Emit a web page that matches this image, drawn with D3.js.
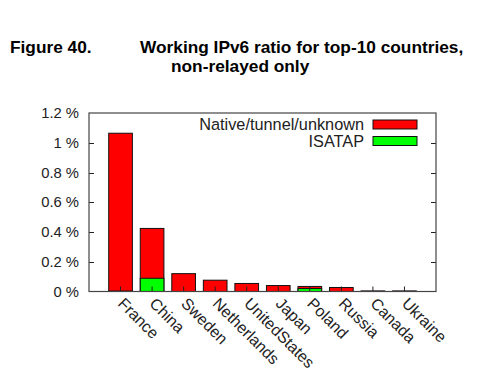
<!DOCTYPE html>
<html>
<head>
<meta charset="UTF-8">
<title>Working IPv6 ratio for top-10 countries</title>
<script src="https://cdn.jsdelivr.net/npm/d3@7"></script>
<style>
  body { margin: 0; background: #fff; }
  text { font-family: "Liberation Sans", Arial, sans-serif; }
</style>
</head>
<body>
<svg width="499" height="380"></svg>
<script>
// data (percent)
var countries = ["France", "China", "Sweden", "Netherlands", "UnitedStates",
                 "Japan", "Poland", "Russia", "Canada", "Ukraine"];
var totalPct  = [1.064, 0.424, 0.120, 0.076, 0.054, 0.040, 0.034, 0.027, 0.004, 0.004];
var isatapPct = [0.003, 0.089, 0, 0, 0, 0, 0.020, 0, 0, 0];
var yTicks = [0, 0.2, 0.4, 0.6, 0.8, 1, 1.2];
var legendNames = ["Native/tunnel/unknown", "ISATAP"];
var legendColors = ["#ff0000", "#00ff00"];

var svg = d3.select("svg");
var pLeft = 89, pRight = 436, pTop = 113, pBottom = 291.5;

var x = d3.scaleLinear().domain([0, countries.length + 1]).range([pLeft, pRight]);
var y = d3.scaleLinear().domain([0, 1.2]).range([pBottom, pTop]);
var bw = x(0.75) - x(0);

// title
var tf = "17.3px";
svg.append("text").attr("x", 10).attr("y", 53)
  .style("font-weight", "bold").style("font-size", tf).text("Figure 40.");
svg.append("text").attr("x", 140).attr("y", 53)
  .style("font-weight", "bold").style("font-size", tf)
  .text("Working IPv6 ratio for top-10 countries,");
svg.append("text").attr("x", 171).attr("y", 71.5)
  .style("font-weight", "bold").style("font-size", tf)
  .text("non-relayed only");

// bars
var g = svg.append("g");
g.selectAll("rect.tot").data(totalPct).enter().append("rect")
  .attr("class", "tot")
  .attr("x", function (d, i) { return x(i + 1) - bw / 2; })
  .attr("y", function (d) { return y(d); })
  .attr("width", bw)
  .attr("height", function (d) { return y(0) - y(d); })
  .attr("fill", "#ff0000").attr("stroke", "#111").attr("stroke-width", 1);

var isa = isatapPct.map(function (v, i) { return { i: i, v: v }; })
  .filter(function (d) { return d.v > 0; });
g.selectAll("rect.isa").data(isa).enter().append("rect")
  .attr("class", "isa")
  .attr("x", function (d) { return x(d.i + 1) - bw / 2; })
  .attr("y", function (d) { return y(d.v); })
  .attr("width", bw)
  .attr("height", function (d) { return y(0) - y(d.v); })
  .attr("fill", "#00ff00").attr("stroke", "#111").attr("stroke-width", 1);

// ticks
var tk = svg.append("g").attr("stroke", "#222").attr("stroke-width", 1);
yTicks.forEach(function (t) {
  if (t === 0 || t === 1.2) return;
  var yy = Math.round(y(t)) + 0.5;
  tk.append("line").attr("x1", pLeft).attr("x2", pLeft + 5).attr("y1", yy).attr("y2", yy);
  tk.append("line").attr("x1", pRight - 5).attr("x2", pRight).attr("y1", yy).attr("y2", yy);
});
countries.forEach(function (c, i) {
  tk.append("line").attr("x1", x(i + 1)).attr("x2", x(i + 1))
    .attr("y1", pBottom).attr("y2", pBottom - 5);
});

// frame
svg.append("rect").attr("x", pLeft).attr("y", pTop)
  .attr("width", pRight - pLeft).attr("height", pBottom - pTop)
  .attr("fill", "none").attr("stroke", "#444").attr("stroke-width", 1.2);

// y labels
svg.selectAll("text.yl").data(yTicks).enter().append("text")
  .attr("class", "yl")
  .attr("x", 79).attr("y", function (d) { return y(d) + 5; })
  .attr("text-anchor", "end").style("font-size", "14.8px").attr("fill", "#222")
  .text(function (d) { return d + " %"; });

// x labels, rotated
svg.selectAll("text.xl").data(countries).enter().append("text")
  .attr("class", "xl")
  .attr("transform", function (d, i) {
    return "translate(" + (x(i + 1) - 3.5) + "," + (pBottom + 13) + ") rotate(45)";
  })
  .style("font-size", "16px").attr("fill", "#222")
  .text(function (d) { return d; });

// legend
legendNames.forEach(function (n, i) {
  var cy = 124.5 + i * 16.5;
  svg.append("text").attr("x", 364).attr("y", cy + 5.5)
    .attr("text-anchor", "end").style("font-size", "16.3px").attr("fill", "#222").text(n);
  svg.append("rect").attr("x", 373).attr("y", cy - 4.5).attr("width", 44).attr("height", 9)
    .attr("fill", legendColors[i]).attr("stroke", "#111").attr("stroke-width", 1);
});
</script>
</body>
</html>
